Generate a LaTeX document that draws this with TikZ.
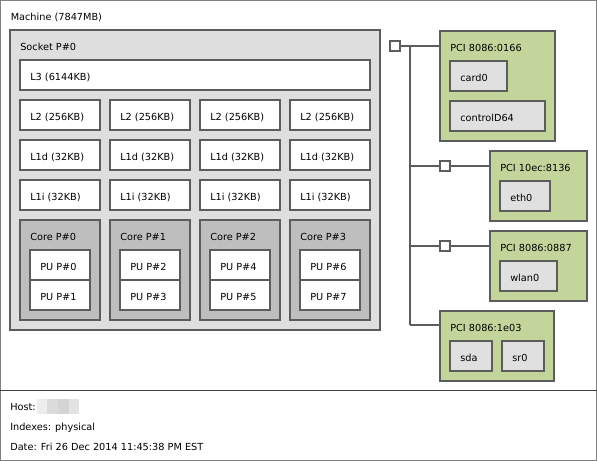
\documentclass[tikz,border=0pt]{standalone}
\usepackage{fontspec}
\setmainfont{DejaVu Sans}
\usetikzlibrary{calc}
\definecolor{bordercol}{HTML}{5C5C5C}
\definecolor{sockcol}{HTML}{DEDEDE}
\definecolor{corecol}{HTML}{BEBEBE}
\definecolor{pcicol}{HTML}{C3D59B}
\definecolor{oscol}{HTML}{E0E0E0}
\newcommand\hwbox[7]{%
  \node[hwb, fill=#6, minimum width=#4*0.75pt, minimum height=#5*0.75pt] (#1) at (#2,#3) {};
  \node[lbl] (#1-t) at ([shift={(10,20)}]#1.north west) {#7};}
\begin{document}
\begin{tikzpicture}[x=0.75pt, y=-0.75pt,
  hwb/.style={draw=bordercol, line width=0.8pt, anchor=north west, inner sep=0pt, outer sep=0pt},
  lbl/.style={anchor=base west, inner sep=0pt, font=\fontsize{7.3pt}{9pt}\selectfont, text=black},
  sq/.style={draw=bordercol, fill=white, line width=0.8pt, minimum size=7.5pt, inner sep=0pt},
  wire/.style={draw=bordercol, line width=0.8pt}]
\useasboundingbox (0,0) rectangle (597,461);
\fill[white] (0,0) rectangle (597,461);
% machine
\node[hwb, draw=gray, fill=white, minimum width=596*0.75pt, minimum height=390*0.75pt] (machine) at (0.5,0.5) {};
\node[lbl] (machine-t) at ([shift={(10,20)}]machine.north west) {Machine (7847MB)};
% socket
\hwbox{socket}{10}{30}{370}{300}{sockcol}{Socket P\#0}
\hwbox{l3}{20}{60}{350}{30}{white}{L3 (6144KB)}
\foreach \i/\x in {0/20,1/110,2/200,3/290}{
  \hwbox{ltwo\i}{\x}{100}{80}{30}{white}{L2 (256KB)}
  \hwbox{lod\i}{\x}{140}{80}{30}{white}{L1d (32KB)}
  \hwbox{loi\i}{\x}{180}{80}{30}{white}{L1i (32KB)}
  \hwbox{core\i}{\x}{220}{80}{100}{corecol}{Core P\#\i}
}
\foreach \i/\x/\a/\b in {0/30/0/1,1/120/2/3,2/210/4/5,3/300/6/7}{
  \hwbox{pu\a}{\x}{250}{60}{30}{white}{PU P\#\a}
  \hwbox{pu\b}{\x}{280}{60}{30}{white}{PU P\#\b}
}
% PCI devices
\hwbox{pcia}{440}{31}{115}{110}{pcicol}{PCI 8086:0166}
\hwbox{carda}{450}{61}{57}{30}{oscol}{card0}
\hwbox{ctrl}{450}{101}{95}{30}{oscol}{controlD64}
\hwbox{pcib}{490}{151}{97}{70}{pcicol}{PCI 10ec:8136}
\hwbox{eth}{500}{181}{50}{30}{oscol}{eth0}
\hwbox{pcic}{490}{231}{97}{70}{pcicol}{PCI 8086:0887}
\hwbox{wlan}{500}{261}{57}{30}{oscol}{wlan0}
\hwbox{pcid}{440}{311}{114}{70}{pcicol}{PCI 8086:1e03}
\hwbox{sda}{450}{341}{42}{30}{oscol}{sda}
\hwbox{srz}{502}{341}{42}{30}{oscol}{sr0}
% bridges
\node[sq] (sqa) at (395,46) {};
\node[sq] (sqb) at (445,166) {};
\node[sq] (sqc) at (445,246) {};
\coordinate (bustop) at (410,46);
\coordinate (busbot) at (410,325);
\draw[wire] (bustop) -- (busbot);
\draw[wire] (sqa.east) -- (sqa.east -| pcia.west);
\draw[wire] (bustop |- sqb) -- (sqb.west);
\draw[wire] (sqb.east) -- (sqb.east -| pcib.west);
\draw[wire] (bustop |- sqc) -- (sqc.west);
\draw[wire] (sqc.east) -- (sqc.east -| pcic.west);
\draw[wire] (busbot) -- (busbot -| pcid.west);
% legend
\node[hwb, draw=gray, fill=white, minimum width=596*0.75pt, minimum height=70*0.75pt] (legend) at (0.5,390.5) {};
\draw[line width=1.2pt, draw=black!75] (legend.north west) -- (legend.north east);
\node[lbl] (host) at (10,410) {Host:};
\fill[black!7] (37,399) rectangle (47,414);
\fill[black!14] (47,399) rectangle (58,414);
\fill[black!17] (58,399) rectangle (69,414);
\fill[black!11] (69,399) rectangle (79,414);
\node[lbl] (idx) at (10,430) {Indexes: physical};
\node[lbl] (date) at (10,450) {Date: Fri 26 Dec 2014 11:45:38 PM EST};
\end{tikzpicture}
\end{document}
